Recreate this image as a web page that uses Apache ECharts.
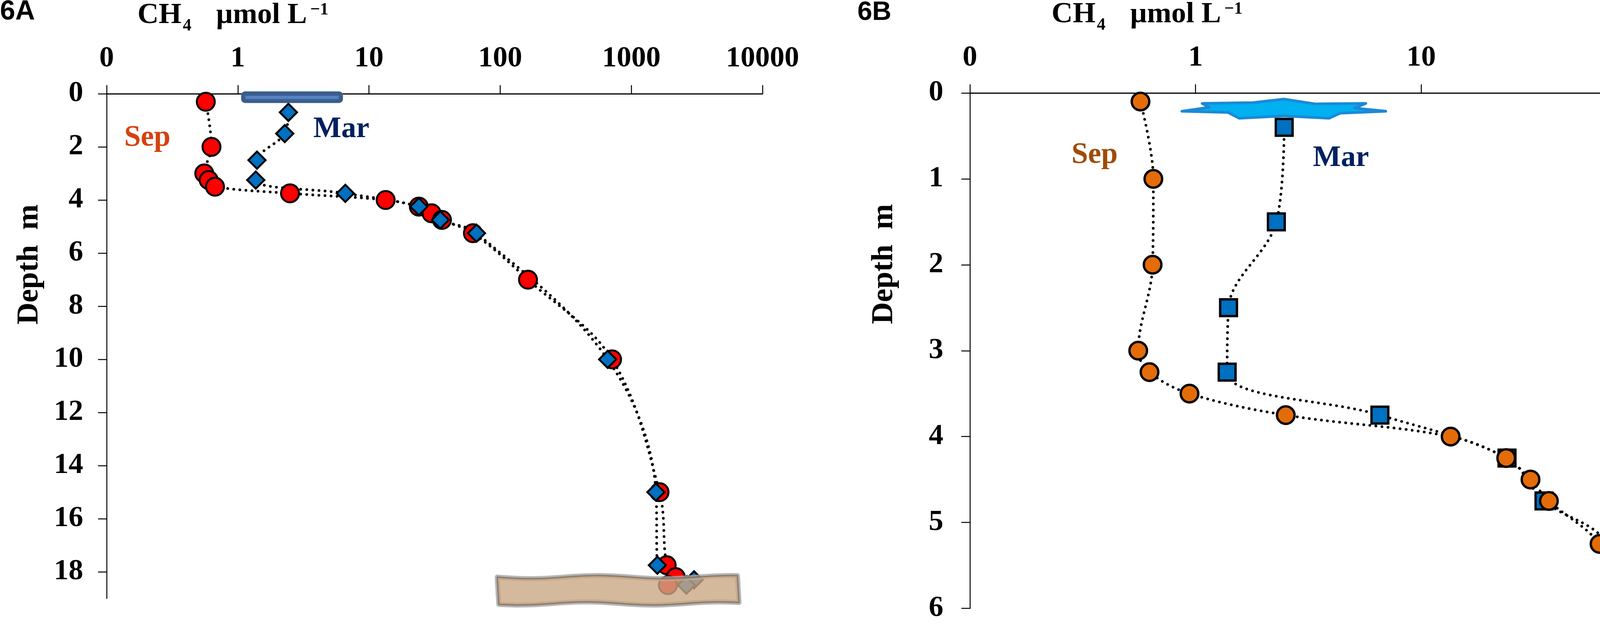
<!DOCTYPE html>
<html>
<head>
<meta charset="utf-8">
<script src="https://cdn.jsdelivr.net/npm/echarts@6/dist/echarts.min.js"></script>
<style>
  html, body { margin: 0; padding: 0; background: #fff; }
  #main { width: 4277px; height: 1595px; }
</style>
</head>
<body>
<div id="main"></div>
<script>
// ---- 6A : whole water column ----
var sepDepthA = [0.3, 2, 3, 3.25, 3.5, 3.75, 4, 4.25, 4.5, 4.75, 5.25, 7, 10, 15, 17.75, 18.2, 18.5];
var sepCh4A   = [0.57, 0.63, 0.555, 0.6, 0.67, 2.5, 13.4, 24, 30, 36, 62, 163, 713, 1640, 1860, 2180, 1900];
var marDepthA = [0.7, 1.5, 2.5, 3.25, 3.75, 4.25, 4.75, 5.25, 10, 15, 17.75, 18.3, 18.5];
var marCh4A   = [2.43, 2.28, 1.4, 1.37, 6.6, 24, 35, 66, 660, 1540, 1580, 3010, 2630];
var depthTicksA = [0, 2, 4, 6, 8, 10, 12, 14, 16, 18];

// ---- 6B : upper 6 m ----
var sepDepthB = [0.1, 1, 2, 3, 3.25, 3.5, 3.75, 4, 4.25, 4.5, 4.75, 5.25, 7, 10];
var sepCh4B   = [0.57, 0.65, 0.645, 0.557, 0.625, 0.94, 2.51, 13.5, 23.8, 30.5, 36.8, 61.7, 163, 713];
var marDepthB = [0.4, 1.5, 2.5, 3.25, 3.75, 4.25, 4.75, 5.25, 10];
var marCh4B   = [2.47, 2.28, 1.4, 1.38, 6.56, 24, 35, 67, 660];

// decorations (data coordinates: CH4, depth)
var iceBarA = [[1.06, -0.09, 6.33, 0.35]];
var sedimentA = [[95, 18.2, 6440, 19.19]];
var iceStarB = [[2.46, 0.072], [3.38, 0.127], [5.68, 0.122], [5.06, 0.176], [6.96, 0.213], [4.38, 0.235],
                [3.91, 0.294], [2.46, 0.267], [1.56, 0.294], [1.39, 0.226], [0.87, 0.213], [1.15, 0.167],
                [1.07, 0.122], [1.80, 0.113]];

function pairs(xs, ys) {
  return xs.map(function (v, i) { return [v, ys[i]]; });
}

var serif = 'Liberation Serif';
var dotLine = { color: '#000', width: 7, type: [0.1, 15.5], cap: 'round' };

function xAxisLog(grid, maxV) {
  return {
    gridIndex: grid, type: 'log', logBase: 10, min: 0.1, max: maxV, position: 'top',
    axisLine: { show: true, lineStyle: { color: '#000', width: 3 } },
    axisTick: { show: true, length: 22, lineStyle: { color: '#000', width: 2.5 } },
    axisLabel: {
      margin: 52, color: '#000', fontFamily: serif, fontSize: 75, fontWeight: 'bold',
      formatter: function (v) { return v < 0.5 ? '0' : String(Math.round(v)); }
    },
    splitLine: { show: false }, minorTick: { show: false }
  };
}

function yAxisDepth(grid, maxV, step, ticks, margin) {
  var ax = {
    gridIndex: grid, type: 'value', inverse: true, min: 0, max: maxV, interval: step,
    axisLine: { show: true, lineStyle: { color: '#000', width: 2.5 } },
    axisTick: { show: true, length: 22, lineStyle: { color: '#000', width: 2.5 } },
    axisLabel: { showMaxLabel: !ticks, margin: margin, color: '#000', fontFamily: serif, fontSize: 75,
                 fontWeight: 'bold' },
    splitLine: { show: false }
  };
  if (ticks) ax.axisTick.customValues = ticks;
  return ax;
}

// axis title "CH4 µmol L-1" built from pieces, dx shifts it to the panel
function unitTitle(dx, cy) {
  var f = '"Liberation Serif"';
  return { type: 'group', x: dx, y: 0, children: [
    { type: 'text', x: 352, y: cy, style: { text: 'CH', font: 'bold 75px ' + f, fill: '#000', verticalAlign: 'middle' } },
    { type: 'text', x: 468, y: cy + 27, style: { text: '4', font: 'bold 44px ' + f, fill: '#000', verticalAlign: 'middle' } },
    { type: 'text', x: 553, y: cy, style: { text: '\u00b5mol L', font: 'bold 75px ' + f, fill: '#000', verticalAlign: 'middle' } },
    { type: 'text', x: 794, y: cy - 14, style: { text: '\u22121', font: 'bold 44px ' + f, fill: '#000', verticalAlign: 'middle' } }
  ]};
}

function depthTitle(cx, cy) {
  return { type: 'text', x: cx, y: cy, rotation: Math.PI / 2,
           style: { text: 'Depth  m', font: 'bold 78px "Liberation Serif"', fill: '#000', align: 'center', verticalAlign: 'middle' } };
}

var myChart = echarts.init(document.getElementById('main'));

var option = {
  animation: false,
  textStyle: { fontFamily: serif },
  grid: [
    { left: 273, top: 240, width: 1679, height: 1292 },
    { left: 2483, top: 238, width: 1733, height: 1326 }
  ],
  xAxis: [xAxisLog(0, 10000), xAxisLog(1, 100)],
  yAxis: [
    yAxisDepth(0, 19, 2, depthTicksA, 60),
    yAxisDepth(1, 6, 1, null, 68)
  ],
  graphic: [
    { type: 'text', x: 0, y: 31, style: { text: '6A', font: 'bold 70px "Liberation Sans"', fill: '#000', verticalAlign: 'middle' } },
    { type: 'text', x: 2195, y: 32, style: { text: '6B', font: 'bold 68px "Liberation Sans"', fill: '#000', verticalAlign: 'middle' } },
    unitTitle(0, 40),
    unitTitle(2340, 38),
    depthTitle(76, 677),
    depthTitle(2264, 676),
    { type: 'text', x: 318, y: 353, style: { text: 'Sep', font: 'bold 76px "Liberation Serif"', fill: '#d4420f', verticalAlign: 'middle' } },
    { type: 'text', x: 802, y: 331, style: { text: 'Mar', font: 'bold 76px "Liberation Serif"', fill: '#002060', verticalAlign: 'middle' } },
    { type: 'text', x: 2743, y: 397, style: { text: 'Sep', font: 'bold 76px "Liberation Serif"', fill: '#9e4c08', verticalAlign: 'middle' } },
    { type: 'text', x: 3361, y: 405, style: { text: 'Mar', font: 'bold 76px "Liberation Serif"', fill: '#002060', verticalAlign: 'middle' } }
  ],
  series: [
    {
      name: 'Sep', type: 'line', xAxisIndex: 0, yAxisIndex: 0, smooth: 0.35,
      data: pairs(sepCh4A, sepDepthA), symbol: 'circle', symbolSize: 46, showAllSymbol: true,
      itemStyle: { color: '#ff0000', borderColor: '#000', borderWidth: 5 },
      lineStyle: dotLine, emphasis: { disabled: true }, silent: true
    },
    {
      name: 'Mar', type: 'line', xAxisIndex: 0, yAxisIndex: 0, smooth: 0.35,
      data: pairs(marCh4A, marDepthA), symbol: 'diamond', symbolSize: [44, 44], showAllSymbol: true,
      itemStyle: { color: '#0070c0', borderColor: '#000', borderWidth: 5 },
      lineStyle: dotLine, emphasis: { disabled: true }, silent: true
    },
    {
      name: 'ice', type: 'custom', xAxisIndex: 0, yAxisIndex: 0, z: 5, silent: true,
      data: iceBarA, encode: { x: [0, 2], y: [1, 3] },
      renderItem: function (params, api) {
        var a = api.coord([api.value(0), api.value(1)]);
        var b = api.coord([api.value(2), api.value(3)]);
        var w = b[0] - a[0], h = b[1] - a[1];
        return { type: 'group', children: [
          { type: 'rect', shape: { x: a[0], y: a[1], width: w, height: h, r: 10 }, style: { fill: '#3b5e8c' } },
          { type: 'rect', shape: { x: a[0] + 11, y: a[1] + 11, width: w - 22, height: h * 0.3 }, style: { fill: '#5581c0' } }
        ]};
      }
    },
    {
      name: 'sediment', type: 'custom', xAxisIndex: 0, yAxisIndex: 0, z: 10, silent: true,
      data: sedimentA, encode: { x: [0, 2], y: [1, 3] },
      renderItem: function (params, api) {
        var a = api.coord([api.value(0), api.value(1)]);
        var b = api.coord([api.value(2), api.value(3)]);
        var top = [], bottom = [], n = 40, i, x;
        for (i = 0; i <= n; i++) {
          x = a[0] + (b[0] - a[0]) * i / n;
          top.push([x, a[1] + 4 * Math.sin(i / n * Math.PI * 3.6)]);
        }
        for (i = n; i >= 0; i--) {
          x = a[0] + (b[0] - a[0]) * i / n;
          bottom.push([x + 4, b[1] + 4 * Math.sin(i / n * Math.PI * 3.6 + 0.6)]);
        }
        var pts = top.concat(bottom);
        return { type: 'group', children: [
          { type: 'polygon', shape: { points: pts }, style: { fill: 'none', stroke: 'rgba(165,165,165,0.8)', lineWidth: 13, lineJoin: 'round' } },
          { type: 'polygon', shape: { points: pts }, style: { fill: 'rgba(203,168,132,0.8)', stroke: 'rgba(125,110,95,0.75)', lineWidth: 4, lineJoin: 'round' } }
        ]};
      }
    },
    {
      name: 'Mar', type: 'line', xAxisIndex: 1, yAxisIndex: 1, smooth: 0.35, clip: true,
      data: pairs(marCh4B, marDepthB), symbol: 'rect', symbolSize: 43, showAllSymbol: true,
      itemStyle: { color: '#0070c0', borderColor: '#000', borderWidth: 6 },
      lineStyle: dotLine, emphasis: { disabled: true }, silent: true
    },
    {
      name: 'Sep', type: 'line', xAxisIndex: 1, yAxisIndex: 1, smooth: 0.35, clip: true,
      data: pairs(sepCh4B, sepDepthB), symbol: 'circle', symbolSize: 45, showAllSymbol: true,
      itemStyle: { color: '#e36c09', borderColor: '#000', borderWidth: 6 },
      lineStyle: dotLine, emphasis: { disabled: true }, silent: true
    },
    {
      name: 'ice', type: 'custom', xAxisIndex: 1, yAxisIndex: 1, z: 5, silent: true,
      data: iceStarB,
      renderItem: function (params, api) {
        if (params.dataIndex !== 0) return null;
        var pts = iceStarB.map(function (p) { return api.coord(p); });
        return { type: 'polygon', shape: { points: pts },
                 style: { fill: '#00b0f0', stroke: '#1a8ad6', lineWidth: 7, lineJoin: 'round' } };
      }
    }
  ]
};

myChart.setOption(option);
</script>
</body>
</html>
